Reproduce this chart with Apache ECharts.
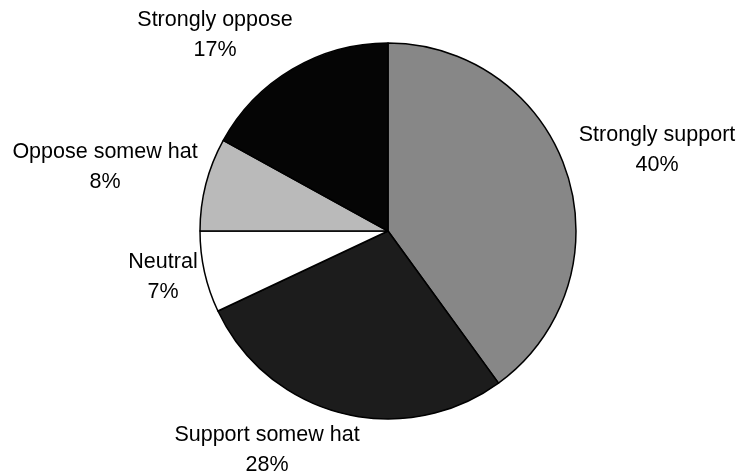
<!DOCTYPE html>
<html>
<head>
<meta charset="utf-8">
<script src="https://cdn.jsdelivr.net/npm/echarts@6/dist/echarts.min.js"></script>
<style>
  html, body { margin: 0; padding: 0; background: #fff; }
  #chart { width: 743px; height: 476px; }
</style>
</head>
<body>
<div id="chart"></div>
<script>
// slices, clockwise from 12 o'clock
const categories = ["Strongly support", "Support somew hat", "Neutral", "Oppose somew hat", "Strongly oppose"];
const values = [40, 28, 7, 8, 17];
const sliceColors = ["#878787", "#1c1c1c", "#ffffff", "#bababa", "#050505"];

// label centres (px) for each slice
const labelPos = [[657, 150], [267, 450], [163, 277], [105, 167], [215, 35]];

const chartInstance = echarts.init(document.getElementById("chart"));

const option = {
  animation: false,
  series: [
    {
      type: "pie",
      center: [388, 231],
      radius: 188,
      startAngle: 90,
      clockwise: true,
      itemStyle: {
        borderColor: "#000",
        borderWidth: 1.5,
      },
      label: {
        show: true,
        color: "#000",
        fontFamily: "Liberation Sans, Arial, sans-serif",
        fontSize: 21.5,
        lineHeight: 30,
        align: "center",
        overflow: "none",
        width: 300,
        formatter: (p) => p.name + "\n" + p.value + "%",
      },
      labelLine: { show: false },
      labelLayout: (params) => {
        const pos = labelPos[params.dataIndex];
        return {
          x: pos[0],
          y: pos[1],
          align: "center",
          verticalAlign: "middle",
        };
      },
      emphasis: { disabled: true },
      data: categories.map((name, i) => ({
        name: name,
        value: values[i],
        itemStyle: { color: sliceColors[i] },
      })),
    },
  ],
};

chartInstance.setOption(option);
</script>
</body>
</html>
